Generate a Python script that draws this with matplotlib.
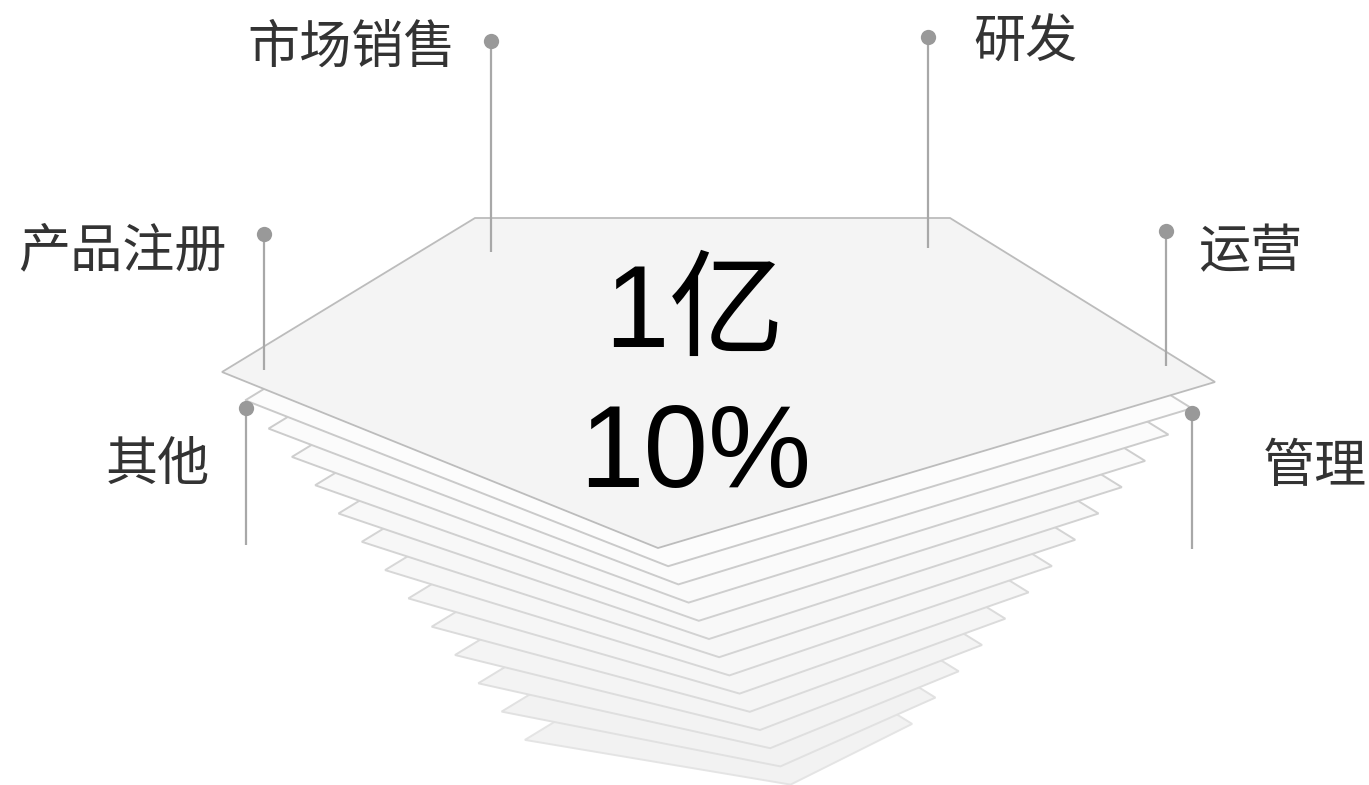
import matplotlib.pyplot as plt
import numpy as np

# 数据
labels = ['市场销售', '研发', '产品注册', '运营', '其他', '管理']
amount_text = '1亿'
ratio_text = '10%'
n_layers = 14

# 标签位置 (像素): 文字锚点, 对齐, 圆点, 引线终点
label_xy = [(456, 63), (973, 58), (18, 266), (1198, 267), (106, 480), (1263, 482)]
label_ha = ['right', 'left', 'left', 'left', 'left', 'left']
dot_xy = [(491, 41), (928, 37), (264, 234), (1166, 231), (246, 408), (1192, 413)]
line_end = [252, 248, 370, 366, 545, 549]

W, H = 1369, 785
fig = plt.figure(figsize=(W / 100, H / 100), dpi=100)
ax = fig.add_axes([0, 0, 1, 1])
ax.set_xlim(0, W)
ax.set_ylim(H, 0)
ax.axis('off')

# 层叠五边形 (从下往上画)
left0, right0, bottom0 = np.array([222, 372]), np.array([1215, 382]), np.array([658, 548])
tl_off, tr_off = np.array([253, -154]), np.array([-265, -164])
width0 = right0[0] - left0[0]
for i in range(n_layers - 1, -1, -1):
    left = left0 + np.array([23.3, 28.3]) * i
    right = right0 + np.array([-23.3, 26.3]) * i
    bottom = bottom0 + np.array([10.2, 18.2]) * i
    s = (right[0] - left[0]) / width0
    pts = [left + tl_off * s, right + tr_off * s, right, bottom, left]
    if i == 0:
        face, edge, lw = '#f4f4f4', '#bcbcbc', 1.3
    else:
        t = (i - 1) / (n_layers - 2)
        g_face = 252 - 10 * t
        g_edge = 202 + 26 * t
        face = '#%02x%02x%02x' % ((int(g_face),) * 3)
        edge = '#%02x%02x%02x' % ((int(g_edge),) * 3)
        lw = 1.4
    ax.add_patch(plt.Polygon(pts, closed=True, facecolor=face, edgecolor=edge,
                             linewidth=lw, joinstyle='miter', zorder=2))

# 中心文字
fam = ['Liberation Sans', 'Noto Sans CJK SC']
ax.text(694, 347, amount_text, ha='center', va='baseline', fontsize=83.5,
        family=fam, color='black', zorder=5)
ax.text(695, 487, ratio_text, ha='center', va='baseline', fontsize=83.5,
        family=fam, color='black', zorder=5)

# 标签 + 引线
for lab, (tx, ty), ha, (dx, dy), ye in zip(labels, label_xy, label_ha, dot_xy, line_end):
    ax.plot([dx, dx], [dy, ye], color='#a8a8a8', linewidth=1.6, zorder=6,
            solid_capstyle='butt')
    ax.plot(dx, dy, 'o', markersize=11, color='#999999', markeredgewidth=0, zorder=7)
    ax.text(tx, ty, lab, ha=ha, va='baseline', fontsize=37.5,
            family=['Noto Sans CJK SC', 'DejaVu Sans'], color='#333333', zorder=7)

fig.savefig('out.png', dpi=100)
